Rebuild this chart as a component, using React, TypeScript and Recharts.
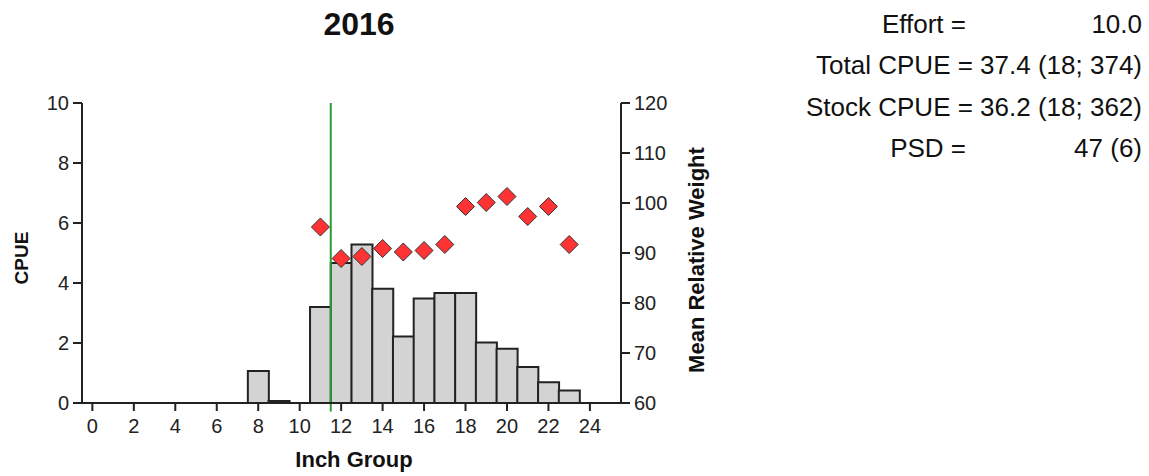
import React from 'react';
import {
  ComposedChart, Bar, Line, XAxis, YAxis, ReferenceLine
} from 'recharts';

const inchGroups = [0, 1, 2, 3, 4, 5, 6, 7, 8, 9, 10, 11, 12, 13, 14, 15, 16, 17, 18, 19, 20, 21, 22, 23, 24, 25];
const cpue = [0, 0, 0, 0, 0, 0, 0, 0, 1.07, 0.07, 0, 3.2, 4.67, 5.28, 3.81, 2.22, 3.48, 3.67, 3.67, 2.02, 1.81, 1.2, 0.69, 0.42, 0, 0];
const relWeight = [null, null, null, null, null, null, null, null, null, null, null,
  95.2, 88.9, 89.3, 90.9, 90.2, 90.5, 91.7, 99.3, 100.1, 101.3, 97.3, 99.3, 91.7, null, null];
const cpueTicks = [0, 2, 4, 6, 8, 10];
const weightTicks = [60, 70, 80, 90, 100, 110, 120];
const stockLength = 11.5;

const statRows = [
  { label: 'Effort =', value: '10.0' },
  { label: 'Total CPUE = 37.4 (18; 374)', value: '' },
  { label: 'Stock CPUE = 36.2 (18; 362)', value: '' },
  { label: 'PSD =', value: '47 (6)' },
];

const data = inchGroups.map((g, i) => ({ inch: g, cpue: cpue[i], wr: relWeight[i] }));

const FONT = '"Liberation Sans", Arial, sans-serif';
const INK = '#222';

const Diamond = (props: any) => {
  const { cx, cy, index } = props;
  if (cx == null || cy == null) return <g key={`d-${index}`} />;
  const r = 9;
  return (
    <polygon
      key={`d-${index}`}
      points={`${cx},${cy - r} ${cx + r},${cy} ${cx},${cy + r} ${cx - r},${cy}`}
      fill="#ff3333"
      stroke="#333"
      strokeWidth={1}
    />
  );
};

export default function App() {
  const tickStyle = { fill: INK, fontSize: 20, fontFamily: FONT };
  return (
    <div style={{ position: 'absolute', left: 0, top: 0, width: 1149, height: 476, background: '#fff', fontFamily: FONT }}>
      <ComposedChart
        width={1149}
        height={476}
        data={data}
        barCategoryGap={0}
        barGap={0}
        margin={{ top: 103, right: 468, bottom: 33, left: 22 }}
      >
        <XAxis
          dataKey="inch"
          type="category"
          interval={1}
          tick={tickStyle}
          tickSize={8}
          tickMargin={8}
          height={40}
          stroke={INK}
          strokeWidth={2}
        />
        <XAxis xAxisId="num" dataKey="inch" type="number" domain={[-0.5, 25.5]} allowDataOverflow hide />
        <YAxis
          yAxisId="left"
          domain={[0, 10]}
          ticks={cpueTicks}
          tick={tickStyle}
          tickSize={9}
          tickMargin={4}
          width={60}
          stroke={INK}
          strokeWidth={2}
          interval={0}
        />
        <YAxis
          yAxisId="right"
          orientation="right"
          domain={[60, 120]}
          ticks={weightTicks}
          tick={tickStyle}
          tickSize={9}
          tickMargin={4}
          width={60}
          stroke={INK}
          strokeWidth={2}
          interval={0}
        />
        <Bar
          yAxisId="left"
          dataKey="cpue"
          fill="#d3d3d3"
          stroke={INK}
          strokeWidth={2}
          isAnimationActive={false}
        />
        <ReferenceLine
          xAxisId="num"
          yAxisId="left"
          segment={[{ x: stockLength, y: 10 }, { x: stockLength, y: -0.28 }]}
          ifOverflow="visible"
          stroke="#2e9b2e"
          strokeWidth={2}
        />
        <Line
          yAxisId="right"
          dataKey="wr"
          stroke="none"
          dot={Diamond}
          activeDot={false}
          connectNulls={false}
          isAnimationActive={false}
        />
      </ComposedChart>

      <svg width={1149} height={476} style={{ position: 'absolute', left: 0, top: 0, pointerEvents: 'none' }}>
        <text x={359} y={35} textAnchor="middle" fontSize={32} fontWeight="bold" fill="#111" fontFamily={FONT}>2016</text>
        <text x={354} y={467} textAnchor="middle" fontSize={22} fontWeight="bold" fill="#111" fontFamily={FONT}>Inch Group</text>
        <text x={28} y={258} textAnchor="middle" fontSize={19} fontWeight="bold" fill="#111" fontFamily={FONT} transform="rotate(-90 28 258)">CPUE</text>
        <text x={704} y={260} textAnchor="middle" fontSize={22} fontWeight="bold" fill="#111" fontFamily={FONT} transform="rotate(-90 704 260)">Mean Relative Weight</text>
        {statRows.map((row, i) => {
          const y = 33 + i * 41.3;
          return (
            <g key={row.label}>
              <text x={row.value ? 966 : 1142} y={y} textAnchor="end" fontSize={26} fill="#111" fontFamily={FONT}>{row.label}</text>
              {row.value && (
                <text x={1142} y={y} textAnchor="end" fontSize={26} fill="#111" fontFamily={FONT}>{row.value}</text>
              )}
            </g>
          );
        })}
      </svg>
    </div>
  );
}
